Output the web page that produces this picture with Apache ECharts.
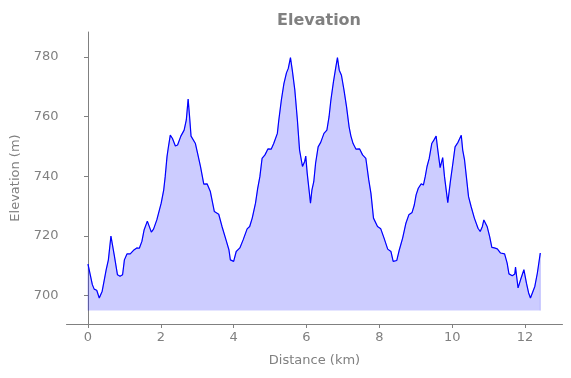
<!DOCTYPE html>
<html>
<head>
<meta charset="utf-8">
<script src="https://cdn.jsdelivr.net/npm/echarts@6/dist/echarts.min.js"></script>
<style>
  html, body { margin: 0; padding: 0; background: #fff; }
  #chart { width: 571px; height: 378px; }
</style>
</head>
<body>
<div id="chart"></div>
<script>
// 距离 (km) 和 高程 (m)
var distance = [0, 0.05, 0.12, 0.17, 0.24, 0.31, 0.39, 0.5, 0.56, 0.63, 0.72, 0.81, 0.88, 0.95, 1.0, 1.07, 1.16, 1.25, 1.34, 1.41, 1.48, 1.54, 1.63, 1.74, 1.8, 1.89, 2.01, 2.08, 2.12, 2.17, 2.21, 2.26, 2.32, 2.4, 2.46, 2.55, 2.64, 2.7, 2.75, 2.79, 2.83, 2.95, 3.01, 3.09, 3.18, 3.27, 3.36, 3.47, 3.59, 3.68, 3.79, 3.87, 3.91, 4.0, 4.07, 4.17, 4.26, 4.37, 4.44, 4.51, 4.54, 4.6, 4.66, 4.72, 4.78, 4.86, 4.94, 5.03, 5.1, 5.2, 5.24, 5.31, 5.38, 5.45, 5.5, 5.56, 5.61, 5.68, 5.75, 5.81, 5.89, 5.95, 5.98, 6.02, 6.07, 6.11, 6.15, 6.2, 6.25, 6.32, 6.39, 6.48, 6.56, 6.62, 6.67, 6.74, 6.8, 6.85, 6.9, 6.96, 7.03, 7.1, 7.17, 7.22, 7.28, 7.36, 7.46, 7.54, 7.63, 7.71, 7.77, 7.84, 7.89, 7.95, 8.04, 8.13, 8.23, 8.32, 8.38, 8.48, 8.55, 8.64, 8.73, 8.81, 8.9, 8.96, 9.01, 9.07, 9.15, 9.21, 9.26, 9.31, 9.37, 9.44, 9.51, 9.56, 9.6, 9.67, 9.74, 9.79, 9.88, 9.95, 10.02, 10.08, 10.16, 10.25, 10.29, 10.34, 10.39, 10.45, 10.52, 10.61, 10.71, 10.77, 10.83, 10.87, 10.96, 11.03, 11.09, 11.16, 11.24, 11.33, 11.44, 11.51, 11.56, 11.65, 11.72, 11.74, 11.77, 11.81, 11.88, 11.97, 12.04, 12.1, 12.15, 12.27, 12.34, 12.42]
var elevation = [710.6, 710.3, 703.7, 702.2, 701.8, 699.2, 701.5, 708.7, 712, 720, 713.7, 707, 706.5, 707, 712, 714, 714, 715.2, 716, 715.9, 718.2, 722, 725, 721.3, 722.3, 725.4, 731, 735.5, 739.9, 746.6, 750, 753.8, 752.7, 750.2, 750.5, 753.5, 755.5, 758.9, 765.9, 760, 753.5, 751, 747.7, 743.3, 737.4, 737.5, 734.9, 728.2, 727.3, 723.2, 718.7, 715.4, 712, 711.5, 714.8, 716, 718.7, 722.4, 723.2, 726, 725.4, 731, 736, 739.9, 746, 747.2, 749.2, 749.1, 751, 754.4, 758.9, 765.6, 771.1, 774.7, 776.2, 779.8, 775.6, 768.9, 758.9, 748.8, 743.3, 745, 746.8, 741, 735.5, 731, 735.5, 738.2, 744.4, 749.9, 751.4, 754.4, 755.5, 760, 765.6, 771.7, 776.2, 779.8, 775.6, 773.9, 768.9, 763.3, 756.6, 753.5, 751, 749.1, 749.2, 747.2, 746, 738.8, 734.3, 726, 726, 723.2, 722.4, 719.3, 715.6, 714.8, 711.5, 711.8, 715.4, 719.3, 724.3, 727.1, 727.9, 730.4, 733.8, 736, 737.5, 737.1, 739.9, 743.3, 746, 751, 752.4, 753.5, 749.4, 742.9, 746.3, 739.9, 731.2, 738.2, 744.4, 749.9, 751.4, 753.8, 748.8, 745.5, 739.9, 733.2, 729.9, 726, 722.6, 721.5, 723.2, 725.4, 723.2, 719.8, 716.2, 716, 715.7, 714.3, 714, 710.9, 707.3, 706.7, 707.3, 709.6, 706.5, 702.6, 705.4, 708.7, 704.2, 700.9, 699.2, 703.1, 707.6, 714.3]
var baseline = 695
var xTicks = [0, 2, 4, 6, 8, 10, 12]
var yTicks = [700, 720, 740, 760, 780]

var line = distance.map(function (d, i) { return [d, elevation[i]] })
// 填充区域的外框（包括底边）
var fill = [[distance[0], baseline]].concat(line)
fill.push([distance[distance.length - 1], baseline])

var chart = echarts.init(document.getElementById('chart'))
var grey = '#808080'
var option = {
  animation: false,
  textStyle: { fontFamily: 'DejaVu Sans' },
  title: {
    text: 'Elevation',
    left: 314,
    top: 8,
    textAlign: 'center',
    textStyle: { color: grey, fontSize: 16, fontWeight: 'bold', fontFamily: 'DejaVu Sans' }
  },
  grid: { left: 66.5, right: 8.5, top: 32, bottom: 54 },
  xAxis: {
    type: 'value',
    min: -0.59,
    max: 13.03,
    name: 'Distance (km)',
    nameLocation: 'middle',
    nameGap: 30,
    nameTextStyle: { color: grey, fontSize: 13 },
    splitLine: { show: false },
    axisLine: { lineStyle: { color: grey, width: 1 } },
    axisTick: { customValues: xTicks, length: 4, lineStyle: { color: grey } },
    axisLabel: { customValues: xTicks, color: grey, fontSize: 13, margin: 7 }
  },
  yAxis: {
    type: 'value',
    min: 690.5,
    max: 788.4,
    name: 'Elevation (m)',
    nameLocation: 'middle',
    nameGap: 44,
    nameRotate: 90,
    nameTextStyle: { color: grey, fontSize: 13 },
    splitLine: { show: false },
    axisLine: { show: true, lineStyle: { color: grey, width: 1 } },
    axisTick: { show: true, customValues: yTicks, length: 4, lineStyle: { color: grey } },
    axisLabel: { customValues: yTicks, color: grey, fontSize: 13, margin: 8 }
  },
  series: [
    {
      type: 'line',
      data: fill,
      symbol: 'none',
      silent: true,
      lineStyle: { color: 'rgba(0,0,255,0.2)', width: 1 },
      areaStyle: { color: 'rgba(0,0,255,0.2)', origin: baseline, opacity: 1 }
    },
    {
      type: 'line',
      data: line,
      symbol: 'none',
      lineStyle: { color: '#0000ff', width: 1.2 }
    }
  ]
}
chart.setOption(option)
</script>
</body>
</html>
